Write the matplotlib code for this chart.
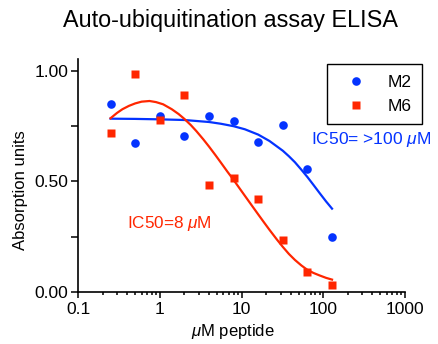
import matplotlib
matplotlib.use("Agg")
import matplotlib.pyplot as plt
from matplotlib.ticker import FixedLocator, LogLocator, NullFormatter

plt.rcParams['font.family'] = ['Liberation Sans', 'DejaVu Sans']
plt.rcParams['mathtext.fontset'] = 'custom'
plt.rcParams['mathtext.it'] = 'Liberation Sans:italic'
plt.rcParams['mathtext.rm'] = 'Liberation Sans'

BLUE = '#0433FF'
RED = '#FF2600'

# measured points (uM peptide vs absorption)
conc = [0.25, 0.5, 1, 2, 4, 8, 16, 32, 64, 128]
m2 = [0.851, 0.674, 0.797, 0.707, 0.797, 0.774, 0.680, 0.757, 0.557, 0.247]
m6 = [0.720, 0.986, 0.776, 0.891, 0.483, 0.514, 0.420, 0.234, 0.090, 0.030]

# fitted curves
fit_x_m2 = [0.25, 0.5, 1, 2, 4, 5.6, 8, 11, 16, 22, 32, 38, 45, 54, 64,
            76, 90, 108, 128]
fit_m2 = [0.784, 0.783, 0.781, 0.778, 0.769, 0.761, 0.750, 0.736, 0.712,
          0.683, 0.639, 0.614, 0.587, 0.553, 0.520, 0.484, 0.448, 0.410,
          0.377]
fit_x_m6 = [0.25, 0.3, 0.35, 0.42, 0.5, 0.6, 0.75, 0.9, 1.1, 1.4, 1.7, 2,
            2.4, 2.8, 3.4, 4, 4.8, 5.6, 6.7, 8, 9.5, 11, 13.5, 16, 19, 22,
            27, 32, 38, 45, 54, 64, 76, 90, 108, 128]
fit_m6 = [0.786, 0.810, 0.827, 0.842, 0.853, 0.861, 0.864, 0.859, 0.849,
          0.827, 0.805, 0.783, 0.755, 0.728, 0.691, 0.658, 0.619, 0.585,
          0.545, 0.507, 0.468, 0.435, 0.389, 0.351, 0.313, 0.281, 0.238,
          0.204, 0.172, 0.145, 0.120, 0.100, 0.086, 0.075, 0.064, 0.056]

fig = plt.figure(figsize=(4.39, 3.44), dpi=100)
ax = fig.add_axes([0.1777, 0.1512, 0.7449, 0.6773])

ax.plot(fit_x_m2, fit_m2, color=BLUE, lw=1.6, zorder=2)
ax.plot(fit_x_m6, fit_m6, color=RED, lw=1.6, zorder=2)
ax.plot(conc, m2, 'o', color=BLUE, ms=6.2, mec='none', label='M2', zorder=3)
ax.plot(conc, m6, 's', color=RED, ms=6.4, mec='none', label='M6', zorder=3)

ax.set_xscale('log')
ax.set_xlim(0.1, 1000)
ax.set_ylim(0, 1.054)
ax.set_xticks([0.1, 1, 10, 100, 1000])
ax.set_xticklabels(['0.1', '1', '10', '100', '1000'])
ax.xaxis.set_minor_locator(LogLocator(base=10, subs=range(2, 10)))
ax.xaxis.set_minor_formatter(NullFormatter())
ax.set_yticks([0, 0.5, 1.0])
ax.set_yticklabels(['0.00', '0.50', '1.00'])
ax.yaxis.set_minor_locator(FixedLocator([0.25, 0.75]))

for s in ['top', 'right']:
    ax.spines[s].set_visible(False)
for s in ['left', 'bottom']:
    ax.spines[s].set_linewidth(1.2)

ax.tick_params(axis='both', which='both', direction='out', width=1.1,
               labelsize=12.5, colors='black')
ax.tick_params(axis='y', which='both', length=5, pad=2)
ax.tick_params(axis='x', which='major', length=4, pad=3)
ax.tick_params(axis='x', which='minor', length=2.5)

ax.set_xlabel(r'$\mathit{\mu}$M peptide', fontsize=12)
ax.xaxis.set_label_coords(0.475, -0.13)
ax.set_ylabel('Absorption units', fontsize=12)
ax.yaxis.set_label_coords(-0.153, 0.438)

fig.text(0.524, 0.940, 'Auto-ubiquitination assay ELISA', fontsize=16.8,
         ha='center', va='center')

ax.text(0.40, 0.308, r'IC50=8 $\mathit{\mu}$M', color=RED, fontsize=12.3,
        ha='left', va='center')
ax.text(71, 0.688, r'IC50= >100 $\mathit{\mu}$M', color=BLUE, fontsize=12.5,
        ha='left', va='center')

leg = ax.legend(loc='upper right', bbox_to_anchor=(0.9606, 0.813),
                bbox_transform=fig.transFigure, borderaxespad=0,
                fancybox=False, framealpha=1, edgecolor='black',
                fontsize=12.5, handletextpad=0.7, borderpad=0.6,
                labelspacing=0.5, handlelength=2.2)
leg.get_frame().set_linewidth(1.0)

fig.savefig('out.png', dpi=100)
